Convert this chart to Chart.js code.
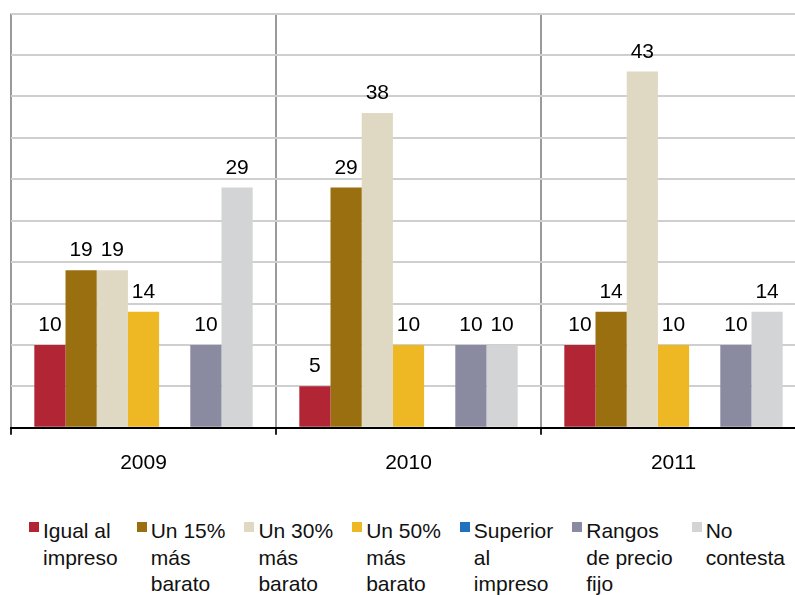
<!DOCTYPE html>
<html>
<head>
<meta charset="utf-8">
<title>Precio del libro digital</title>
<style>
html, body { margin: 0; padding: 0; overflow: hidden; background: #fff; }
#wrap { position: absolute; left: 0; top: 0; width: 806px; height: 506px; }
#legend {
    position: absolute; left: 29px; top: 518px;
    display: flex; gap: 19px;
    font-family: 'Liberation Sans', Arial, sans-serif; font-size: 21px; line-height: 26.5px; color: #111;
}
#legend .item { display: flex; align-items: flex-start; }
#legend .box { width: 10px; height: 10px; margin-top: 4px; margin-right: 4px; flex: none; }
</style>
</head>
<body>
<script src="https://cdn.jsdelivr.net/npm/chart.js@4.4.1/dist/chart.umd.min.js"></script>

<div id="wrap"><canvas id="grafico"></canvas></div>
<div id="legend"></div>

<script>
// categorias (anos)
var years = ["2009", "2010", "2011"];

// series
var legendLines = [
    ["Igual al", "impreso"],
    ["Un 15%", "más", "barato"],
    ["Un 30%", "más", "barato"],
    ["Un 50%", "más", "barato"],
    ["Superior", "al", "impreso"],
    ["Rangos", "de precio", "fijo"],
    ["No", "contesta"]
];
var colors = ["#B22535", "#9A6F0F", "#DFD8C2", "#EEB825", "#2172BE", "#8A8AA0", "#D3D4D6"];

var igualImpreso = [10, 5, 10];
var mas15 = [19, 29, 14];
var mas30 = [19, 38, 43];
var mas50 = [14, 10, 10];
var superior = [null, null, null];
var rangos = [10, 10, 10];
var noContesta = [29, 10, 14];

var yMax = 50;
var yStep = 5;

var seriesData = [igualImpreso, mas15, mas30, mas50, superior, rangos, noContesta];

var datasets = [];
for (var i = 0; i < seriesData.length; i++) {
    datasets.push({
        label: legendLines[i].join(" "),
        data: seriesData[i],
        backgroundColor: colors[i],
        borderWidth: 0
    });
}

// etiquetas de valor encima de cada barra
var valueLabels = {
    id: 'valueLabels',
    afterDatasetsDraw: function(chart) {
        var ctx = chart.ctx;
        ctx.save();
        ctx.font = "21px 'Liberation Sans', Arial, sans-serif";
        ctx.fillStyle = "#000";
        ctx.textAlign = "center";
        ctx.textBaseline = "alphabetic";
        chart.data.datasets.forEach(function(ds, di) {
            var meta = chart.getDatasetMeta(di);
            meta.data.forEach(function(bar, j) {
                var v = ds.data[j];
                if (v === null || v === undefined) return;
                ctx.fillText(v, bar.x, bar.y - 14);
            });
        });
        ctx.restore();
    }
};

Chart.defaults.font.family = "'Liberation Sans', Arial, sans-serif";
Chart.defaults.font.size = 21;
Chart.defaults.color = "#000";

var chart = new Chart(document.getElementById("grafico"), {
    type: 'bar',
    data: { labels: years, datasets: datasets },
    plugins: [valueLabels],
    options: {
        responsive: true,
        maintainAspectRatio: false,
        animation: false,
        layout: { padding: { left: 11, top: 13.5, right: 0, bottom: 14 } },
        datasets: { bar: { categoryPercentage: 0.824, barPercentage: 1 } },
        plugins: { legend: { display: false }, tooltip: { enabled: false } },
        scales: {
            x: {
                grid: { color: "#9a9a9a", lineWidth: 2, tickColor: "#222", tickLength: 7, offset: true },
                border: { color: "#000", width: 2 },
                ticks: { padding: 16, color: "#000" }
            },
            y: {
                min: 0, max: yMax,
                ticks: { display: false, stepSize: yStep },
                grid: { color: "#cfcfcf", lineWidth: 2, drawTicks: false },
                border: { display: false }
            }
        }
    }
});

// leyenda HTML con etiquetas en varias lineas
var legend = document.getElementById("legend");
legendLines.forEach(function(lines, i) {
    var item = document.createElement("div");
    item.className = "item";
    var box = document.createElement("span");
    box.className = "box";
    box.style.background = colors[i];
    var txt = document.createElement("span");
    txt.innerHTML = lines.join("<br>");
    item.appendChild(box);
    item.appendChild(txt);
    legend.appendChild(item);
});
</script>
</body>
</html>
